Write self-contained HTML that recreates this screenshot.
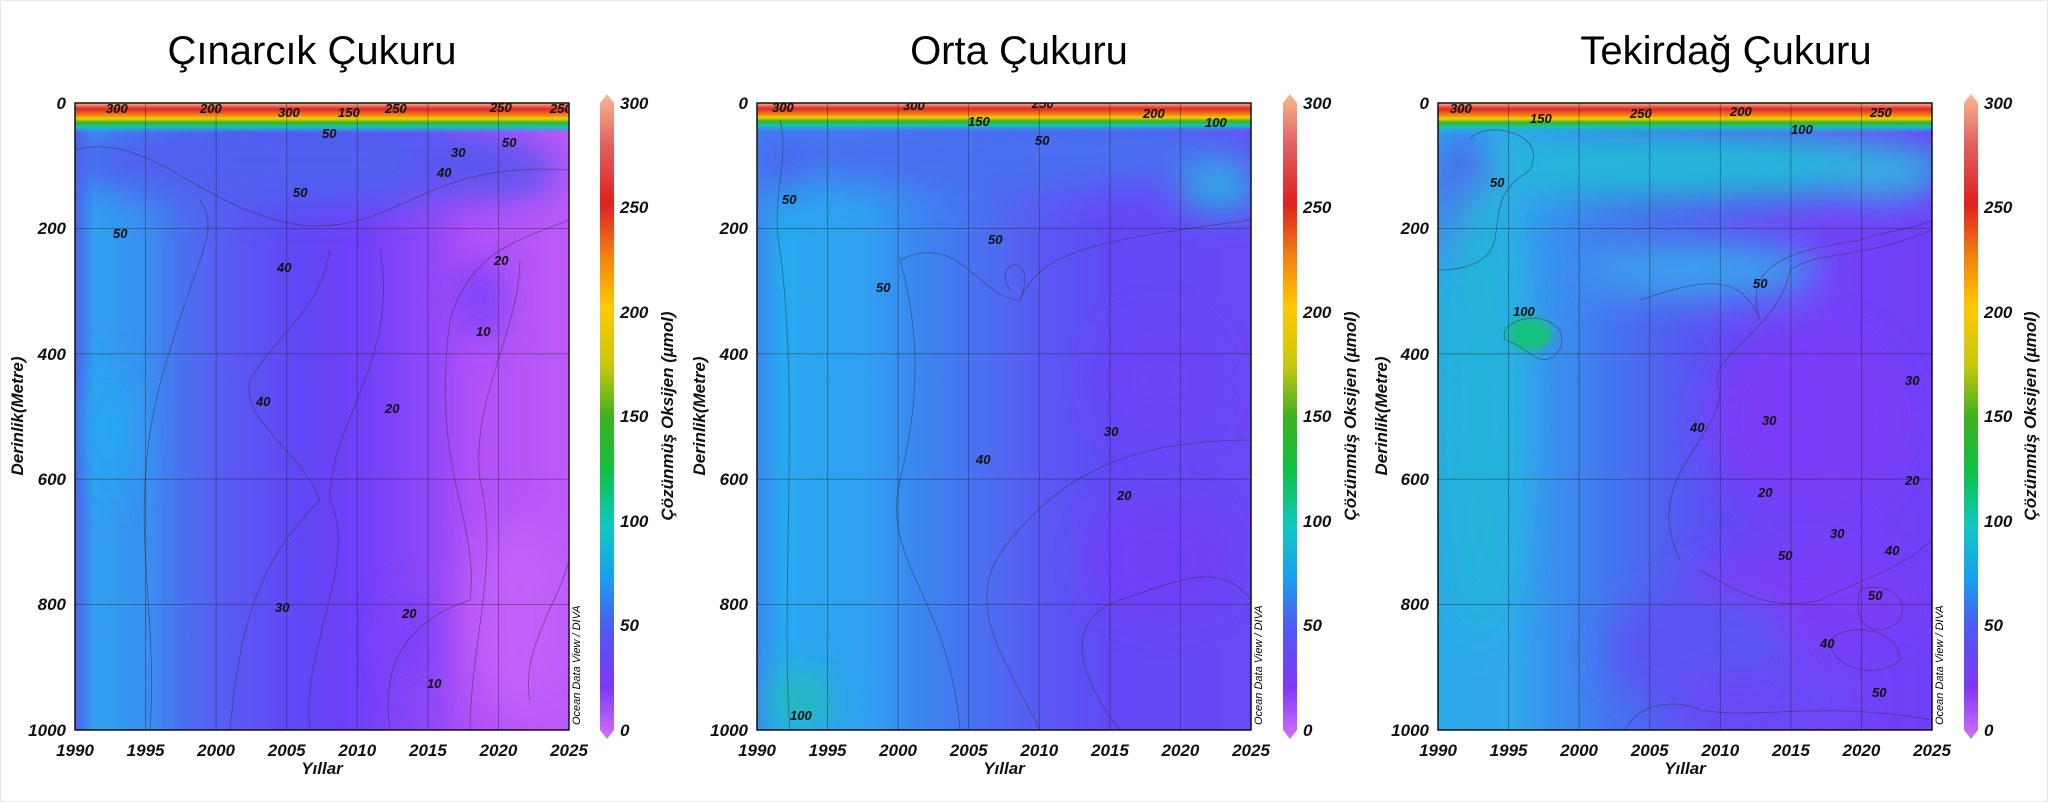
<!DOCTYPE html>
<html><head><meta charset="utf-8"><style>
html,body{margin:0;padding:0;background:#fff;}
svg{display:block;}
text{font-family:"Liberation Sans",sans-serif;}
.t{font-size:17px;font-weight:bold;font-style:italic;fill:#111;}
.ti{font-size:40px;fill:#000;}
.cl{font-size:13px;font-weight:bold;font-style:italic;fill:#111;}
.c{fill:none;stroke:#333;stroke-width:0.8;opacity:0.55;}
.g{stroke:#222;stroke-width:0.9;opacity:0.45;}
</style></head><body>
<svg width="2048" height="802" viewBox="0 0 2048 802" xmlns="http://www.w3.org/2000/svg">
<defs>
<linearGradient id="cbar" x1="0" y1="1" x2="0" y2="0">
<stop offset="0" stop-color="#d070f8"/><stop offset="0.08" stop-color="#8038f8"/><stop offset="0.17" stop-color="#5058f0"/>
<stop offset="0.25" stop-color="#18a0f0"/><stop offset="0.33" stop-color="#10c8c0"/><stop offset="0.42" stop-color="#10c040"/>
<stop offset="0.5" stop-color="#40b020"/><stop offset="0.58" stop-color="#c8c810"/><stop offset="0.67" stop-color="#ffc800"/>
<stop offset="0.75" stop-color="#f08010"/><stop offset="0.83" stop-color="#e02020"/><stop offset="0.92" stop-color="#e06060"/>
<stop offset="1" stop-color="#f8b890"/></linearGradient>
<linearGradient id="band" x1="0" y1="0" x2="0" y2="1">
<stop offset="0" stop-color="#f8b890"/><stop offset="0.2" stop-color="#e02828"/><stop offset="0.4" stop-color="#f08010"/>
<stop offset="0.52" stop-color="#f0d000"/><stop offset="0.65" stop-color="#40b020"/><stop offset="0.8" stop-color="#10c8b0"/>
<stop offset="1" stop-color="#30a0f0" stop-opacity="0"/></linearGradient>
<linearGradient id="h1" x1="0" y1="0" x2="1" y2="0">
<stop offset="0" stop-color="#5060f0"/><stop offset="0.04" stop-color="#30a0f0"/><stop offset="0.14" stop-color="#3a90f0"/>
<stop offset="0.22" stop-color="#4a70f0"/><stop offset="0.32" stop-color="#5a58f2"/><stop offset="0.45" stop-color="#6048f6"/>
<stop offset="0.58" stop-color="#7040f8"/><stop offset="0.72" stop-color="#9048f8"/><stop offset="0.8" stop-color="#b050f8"/>
<stop offset="1" stop-color="#bc5af8"/></linearGradient>
<linearGradient id="h2" x1="0" y1="0" x2="1" y2="0">
<stop offset="0" stop-color="#3a8af0"/><stop offset="0.05" stop-color="#28a8f0"/><stop offset="0.22" stop-color="#30a0f0"/>
<stop offset="0.32" stop-color="#3a88f0"/><stop offset="0.45" stop-color="#4a70f0"/><stop offset="0.58" stop-color="#5a58f4"/>
<stop offset="0.72" stop-color="#6448f6"/><stop offset="1" stop-color="#6a48f6"/></linearGradient>
<linearGradient id="h3" x1="0" y1="0" x2="1" y2="0">
<stop offset="0" stop-color="#2aa8e8"/><stop offset="0.15" stop-color="#30a8ec"/><stop offset="0.3" stop-color="#4080f0"/>
<stop offset="0.45" stop-color="#5060f0"/><stop offset="0.6" stop-color="#6448f6"/><stop offset="0.8" stop-color="#7440f8"/>
<stop offset="1" stop-color="#7040f8"/></linearGradient>
<filter id="b" x="-50%" y="-50%" width="200%" height="200%"><feGaussianBlur stdDeviation="18"/></filter>
<filter id="b2" x="-50%" y="-50%" width="200%" height="200%"><feGaussianBlur stdDeviation="4"/></filter>
<clipPath id="p1"><rect x="75" y="103" width="494" height="627"/></clipPath>
<clipPath id="p2"><rect x="757" y="103" width="494" height="627"/></clipPath>
<clipPath id="p3"><rect x="1438" y="103" width="494" height="627"/></clipPath>
</defs>
<rect width="2048" height="802" fill="#fff"/>
<rect x="0.5" y="0.5" width="2047" height="801" fill="none" stroke="#e8e8e8"/>

<!-- Titles -->
<text class="ti" x="312" y="64" text-anchor="middle">Çınarcık Çukuru</text>
<text class="ti" x="1019" y="64" text-anchor="middle">Orta Çukuru</text>
<text class="ti" x="1726" y="64" text-anchor="middle">Tekirdağ Çukuru</text>

<!-- Panel 1 -->
<g clip-path="url(#p1)">
<rect x="75" y="103" width="494" height="627" fill="url(#h1)"/>
<g filter="url(#b)">
<ellipse cx="300" cy="160" rx="240" ry="45" fill="#5060f0"/>
<ellipse cx="480" cy="170" rx="80" ry="30" fill="#5a54f0"/>
<ellipse cx="110" cy="430" rx="20" ry="60" fill="#20a8f0"/>
<ellipse cx="480" cy="300" rx="20" ry="40" fill="#7040f8"/>
<ellipse cx="410" cy="640" rx="20" ry="45" fill="#7a40f8"/>
<ellipse cx="520" cy="620" rx="50" ry="100" fill="#c060f8"/>
</g>
<rect x="75" y="103" width="494" height="30" fill="url(#band)"/>
<path class="c" d="M75 150 C150 130 200 210 300 225 C400 235 420 160 569 170"/>
<path class="c" d="M150 730 C160 600 120 500 170 350 C200 250 220 230 200 200"/>
<path class="c" d="M230 730 C240 620 260 560 320 500 C300 450 240 420 250 380 C280 330 320 310 330 250"/>
<path class="c" d="M310 730 C300 650 360 560 330 500 C330 420 400 360 380 250"/>
<path class="c" d="M390 730 C380 660 410 620 470 600 C480 520 430 470 450 320 C470 250 520 240 569 220"/>
<path class="c" d="M470 730 C470 650 500 560 480 480 C470 400 520 330 520 260"/>
<path class="c" d="M530 700 C520 650 560 600 569 560"/>
<line class="g" x1="75" y1="228.4" x2="569" y2="228.4"/><line class="g" x1="75" y1="353.8" x2="569" y2="353.8"/>
<line class="g" x1="75" y1="479.2" x2="569" y2="479.2"/><line class="g" x1="75" y1="604.6" x2="569" y2="604.6"/>
<line class="g" x1="145.6" y1="103" x2="145.6" y2="730"/><line class="g" x1="216.1" y1="103" x2="216.1" y2="730"/>
<line class="g" x1="286.7" y1="103" x2="286.7" y2="730"/><line class="g" x1="357.3" y1="103" x2="357.3" y2="730"/>
<line class="g" x1="427.9" y1="103" x2="427.9" y2="730"/><line class="g" x1="498.4" y1="103" x2="498.4" y2="730"/>
<text class="cl" x="106" y="113">300</text><text class="cl" x="200" y="113">200</text><text class="cl" x="278" y="117">300</text>
<text class="cl" x="338" y="117">150</text><text class="cl" x="385" y="113">250</text><text class="cl" x="490" y="112">250</text><text class="cl" x="550" y="113">250</text>
<text class="cl" x="322" y="138">50</text><text class="cl" x="502" y="147">50</text><text class="cl" x="451" y="157">30</text>
<text class="cl" x="293" y="197">50</text><text class="cl" x="437" y="177">40</text><text class="cl" x="113" y="238">50</text>
<text class="cl" x="277" y="272">40</text><text class="cl" x="494" y="265">20</text><text class="cl" x="476" y="336">10</text>
<text class="cl" x="256" y="406">40</text><text class="cl" x="385" y="413">20</text><text class="cl" x="402" y="618">20</text>
<text class="cl" x="275" y="612">30</text><text class="cl" x="427" y="688">10</text>
</g>
<rect x="75" y="103" width="494" height="627" fill="none" stroke="#111" stroke-width="1.5"/>
<text x="580" y="725" transform="rotate(-90 580 725)" style="font-size:11px;font-style:italic;font-family:'Liberation Sans',sans-serif">Ocean Data View / DIVA</text>

<!-- Panel 2 -->
<g clip-path="url(#p2)">
<rect x="757" y="103" width="494" height="627" fill="url(#h2)"/>
<g filter="url(#b)">
<ellipse cx="1000" cy="150" rx="260" ry="40" fill="#4a70f0"/>
<ellipse cx="1220" cy="190" rx="40" ry="20" fill="#20b8e0"/>
<ellipse cx="780" cy="160" rx="20" ry="40" fill="#5060f0"/>
<ellipse cx="800" cy="700" rx="30" ry="25" fill="#20c0b0"/>
<ellipse cx="1160" cy="560" rx="70" ry="60" fill="#7040f8"/>
<ellipse cx="1160" cy="380" rx="60" ry="60" fill="#6a44f8"/>
</g>
<rect x="757" y="103" width="494" height="28" fill="url(#band)"/>
<path class="c" d="M790 730 C780 600 800 400 780 250 C770 200 790 160 780 120"/>
<path class="c" d="M960 730 C950 600 880 560 900 480 C920 400 920 330 900 260 C960 230 980 300 1020 300 C1040 250 1100 240 1251 220"/>
<path class="c" d="M1040 730 C1000 650 960 600 1010 540 C1060 480 1120 440 1251 440"/>
<path class="c" d="M1120 730 C1080 680 1060 620 1120 600 C1180 580 1220 560 1251 600"/>
<path class="c" d="M1010 290 C990 260 1040 250 1020 300"/>
<line class="g" x1="757" y1="228.4" x2="1251" y2="228.4"/><line class="g" x1="757" y1="353.8" x2="1251" y2="353.8"/>
<line class="g" x1="757" y1="479.2" x2="1251" y2="479.2"/><line class="g" x1="757" y1="604.6" x2="1251" y2="604.6"/>
<line class="g" x1="827.6" y1="103" x2="827.6" y2="730"/><line class="g" x1="898.1" y1="103" x2="898.1" y2="730"/>
<line class="g" x1="968.7" y1="103" x2="968.7" y2="730"/><line class="g" x1="1039.3" y1="103" x2="1039.3" y2="730"/>
<line class="g" x1="1109.9" y1="103" x2="1109.9" y2="730"/><line class="g" x1="1180.4" y1="103" x2="1180.4" y2="730"/>
<text class="cl" x="772" y="112">300</text><text class="cl" x="903" y="110">300</text><text class="cl" x="1032" y="108">250</text>
<text class="cl" x="968" y="126">150</text><text class="cl" x="1143" y="118">200</text><text class="cl" x="1205" y="127">100</text>
<text class="cl" x="1035" y="145">50</text><text class="cl" x="782" y="204">50</text><text class="cl" x="988" y="244">50</text>
<text class="cl" x="876" y="292">50</text><text class="cl" x="1104" y="436">30</text><text class="cl" x="976" y="464">40</text>
<text class="cl" x="1117" y="500">20</text><text class="cl" x="790" y="720">100</text>
</g>
<rect x="757" y="103" width="494" height="627" fill="none" stroke="#111" stroke-width="1.5"/>
<text x="1262" y="725" transform="rotate(-90 1262 725)" style="font-size:11px;font-style:italic;font-family:'Liberation Sans',sans-serif">Ocean Data View / DIVA</text>

<!-- Panel 3 -->
<g clip-path="url(#p3)">
<rect x="1438" y="103" width="494" height="627" fill="url(#h3)"/>
<g filter="url(#b)">
<ellipse cx="1700" cy="165" rx="250" ry="35" fill="#22b8d8"/>
<ellipse cx="1880" cy="175" rx="60" ry="25" fill="#30b0e0"/>
<ellipse cx="1700" cy="270" rx="120" ry="30" fill="#3aa0ec"/>
<ellipse cx="1465" cy="210" rx="30" ry="80" fill="#5060f0"/>
<ellipse cx="1480" cy="410" rx="40" ry="230" fill="#24b4d8"/>
<ellipse cx="1810" cy="420" rx="100" ry="90" fill="#7a3cf8"/>
<ellipse cx="1800" cy="600" rx="120" ry="50" fill="#7c3cf8"/>
<ellipse cx="1700" cy="650" rx="90" ry="60" fill="#5a54f2"/>
<ellipse cx="1770" cy="700" rx="100" ry="30" fill="#6a48f6"/>
</g>
<g filter="url(#b2)"><ellipse cx="1530" cy="334" rx="22" ry="17" fill="#18c080"/></g>
<rect x="1438" y="103" width="494" height="30" fill="url(#band)"/>
<path class="c" d="M1535 318 C1560 320 1570 340 1555 355 C1540 370 1525 345 1505 340 C1500 325 1520 318 1535 318"/>
<path class="c" d="M1470 140 C1480 120 1550 130 1530 170 C1500 190 1500 200 1495 240 C1490 260 1470 270 1438 270"/>
<path class="c" d="M1640 300 C1700 280 1740 270 1760 320 C1740 260 1800 250 1860 240 C1890 230 1910 230 1932 220"/>
<path class="c" d="M1625 730 C1640 700 1680 700 1700 710 C1760 720 1820 700 1932 720"/>
<path class="c" d="M1680 560 C1640 480 1720 440 1720 390 C1700 360 1780 330 1790 270 C1820 250 1860 260 1932 230"/>
<path class="c" d="M1700 570 C1750 600 1780 610 1820 600 C1860 580 1900 570 1932 540"/>
<path class="c" d="M1860 590 C1890 580 1910 600 1900 620 C1880 640 1850 630 1860 590"/>
<path class="c" d="M1830 640 C1850 620 1900 630 1900 660 C1880 680 1830 670 1830 640"/>
<line class="g" x1="1438" y1="228.4" x2="1932" y2="228.4"/><line class="g" x1="1438" y1="353.8" x2="1932" y2="353.8"/>
<line class="g" x1="1438" y1="479.2" x2="1932" y2="479.2"/><line class="g" x1="1438" y1="604.6" x2="1932" y2="604.6"/>
<line class="g" x1="1508.6" y1="103" x2="1508.6" y2="730"/><line class="g" x1="1579.1" y1="103" x2="1579.1" y2="730"/>
<line class="g" x1="1649.7" y1="103" x2="1649.7" y2="730"/><line class="g" x1="1720.3" y1="103" x2="1720.3" y2="730"/>
<line class="g" x1="1790.9" y1="103" x2="1790.9" y2="730"/><line class="g" x1="1861.4" y1="103" x2="1861.4" y2="730"/>
<text class="cl" x="1450" y="113">300</text><text class="cl" x="1530" y="123">150</text><text class="cl" x="1630" y="118">250</text>
<text class="cl" x="1730" y="116">200</text><text class="cl" x="1870" y="117">250</text><text class="cl" x="1791" y="134">100</text>
<text class="cl" x="1490" y="187">50</text><text class="cl" x="1753" y="288">50</text><text class="cl" x="1513" y="316">100</text>
<text class="cl" x="1762" y="425">30</text><text class="cl" x="1905" y="385">30</text><text class="cl" x="1690" y="432">40</text>
<text class="cl" x="1905" y="485">20</text><text class="cl" x="1758" y="497">20</text><text class="cl" x="1885" y="555">40</text>
<text class="cl" x="1830" y="538">30</text><text class="cl" x="1778" y="560">50</text><text class="cl" x="1868" y="600">50</text>
<text class="cl" x="1820" y="648">40</text><text class="cl" x="1872" y="697">50</text>
</g>
<rect x="1438" y="103" width="494" height="627" fill="none" stroke="#111" stroke-width="1.5"/>
<text x="1943" y="725" transform="rotate(-90 1943 725)" style="font-size:11px;font-style:italic;font-family:'Liberation Sans',sans-serif">Ocean Data View / DIVA</text>

<!-- Axes labels, colorbars -->
<g class="t">
<!-- panel1 y -->
<text x="66" y="109" text-anchor="end">0</text><text x="66" y="234" text-anchor="end">200</text><text x="66" y="360" text-anchor="end">400</text>
<text x="66" y="485" text-anchor="end">600</text><text x="66" y="610" text-anchor="end">800</text><text x="66" y="736" text-anchor="end">1000</text>
<text x="75" y="756" text-anchor="middle">1990</text><text x="145.6" y="756" text-anchor="middle">1995</text><text x="216.1" y="756" text-anchor="middle">2000</text>
<text x="286.7" y="756" text-anchor="middle">2005</text><text x="357.3" y="756" text-anchor="middle">2010</text><text x="427.9" y="756" text-anchor="middle">2015</text>
<text x="498.4" y="756" text-anchor="middle">2020</text><text x="569" y="756" text-anchor="middle">2025</text>
<text x="322" y="774" text-anchor="middle">Yıllar</text>
<text x="23" y="416" text-anchor="middle" transform="rotate(-90 23 416)">Derinlik(Metre)</text>
<!-- panel2 -->
<text x="748" y="109" text-anchor="end">0</text><text x="748" y="234" text-anchor="end">200</text><text x="748" y="360" text-anchor="end">400</text>
<text x="748" y="485" text-anchor="end">600</text><text x="748" y="610" text-anchor="end">800</text><text x="748" y="736" text-anchor="end">1000</text>
<text x="757" y="756" text-anchor="middle">1990</text><text x="827.6" y="756" text-anchor="middle">1995</text><text x="898.1" y="756" text-anchor="middle">2000</text>
<text x="968.7" y="756" text-anchor="middle">2005</text><text x="1039.3" y="756" text-anchor="middle">2010</text><text x="1109.9" y="756" text-anchor="middle">2015</text>
<text x="1180.4" y="756" text-anchor="middle">2020</text><text x="1251" y="756" text-anchor="middle">2025</text>
<text x="1004" y="774" text-anchor="middle">Yıllar</text>
<text x="705" y="416" text-anchor="middle" transform="rotate(-90 705 416)">Derinlik(Metre)</text>
<!-- panel3 -->
<text x="1429" y="109" text-anchor="end">0</text><text x="1429" y="234" text-anchor="end">200</text><text x="1429" y="360" text-anchor="end">400</text>
<text x="1429" y="485" text-anchor="end">600</text><text x="1429" y="610" text-anchor="end">800</text><text x="1429" y="736" text-anchor="end">1000</text>
<text x="1438" y="756" text-anchor="middle">1990</text><text x="1508.6" y="756" text-anchor="middle">1995</text><text x="1579.1" y="756" text-anchor="middle">2000</text>
<text x="1649.7" y="756" text-anchor="middle">2005</text><text x="1720.3" y="756" text-anchor="middle">2010</text><text x="1790.9" y="756" text-anchor="middle">2015</text>
<text x="1861.4" y="756" text-anchor="middle">2020</text><text x="1932" y="756" text-anchor="middle">2025</text>
<text x="1685" y="774" text-anchor="middle">Yıllar</text>
<text x="1387" y="416" text-anchor="middle" transform="rotate(-90 1387 416)">Derinlik(Metre)</text>
</g>

<!-- colorbars -->
<g>
<path d="M600 103 L607 94 L614 103 L614 730 L607 739 L600 730 Z" fill="url(#cbar)"/>
<path d="M1283 103 L1290 94 L1297 103 L1297 730 L1290 739 L1283 730 Z" fill="url(#cbar)"/>
<path d="M1964 103 L1971 94 L1978 103 L1978 730 L1971 739 L1964 730 Z" fill="url(#cbar)"/>
</g>
<g class="t">
<text x="620" y="109">300</text><text x="620" y="213">250</text><text x="620" y="318">200</text><text x="620" y="422">150</text><text x="620" y="527">100</text><text x="620" y="631">50</text><text x="620" y="736">0</text>
<text x="1303" y="109">300</text><text x="1303" y="213">250</text><text x="1303" y="318">200</text><text x="1303" y="422">150</text><text x="1303" y="527">100</text><text x="1303" y="631">50</text><text x="1303" y="736">0</text>
<text x="1984" y="109">300</text><text x="1984" y="213">250</text><text x="1984" y="318">200</text><text x="1984" y="422">150</text><text x="1984" y="527">100</text><text x="1984" y="631">50</text><text x="1984" y="736">0</text>
<text x="673" y="416" text-anchor="middle" transform="rotate(-90 673 416)">Çözünmüş Oksijen (µmol)</text>
<text x="1356" y="416" text-anchor="middle" transform="rotate(-90 1356 416)">Çözünmüş Oksijen (µmol)</text>
<text x="2036" y="416" text-anchor="middle" transform="rotate(-90 2036 416)">Çözünmüş Oksijen (µmol)</text>
</g>
</svg>
</body></html>
